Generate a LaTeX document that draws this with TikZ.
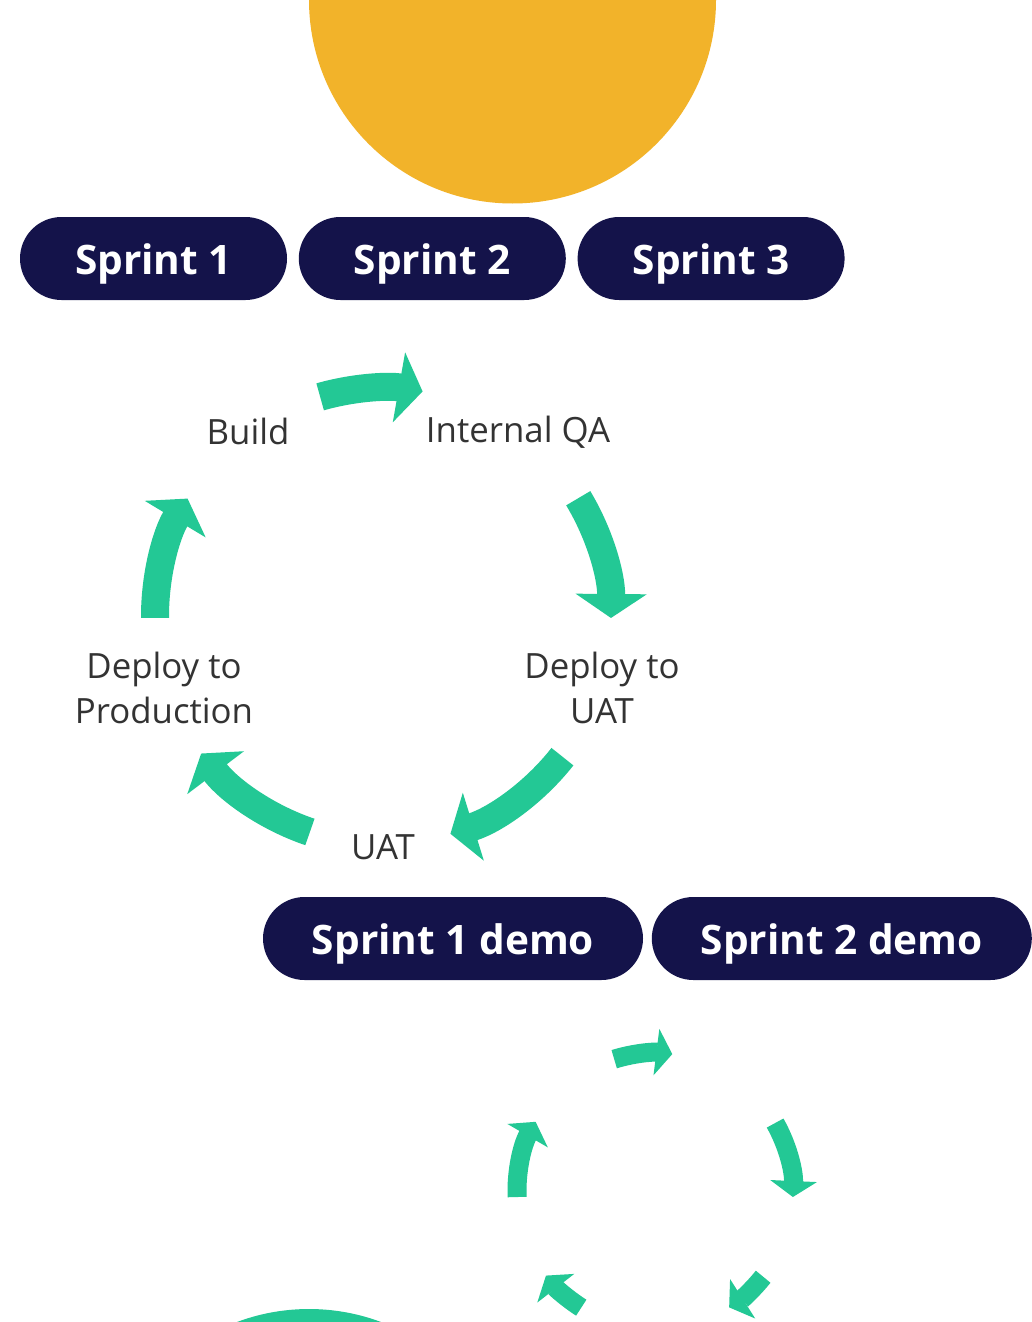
\documentclass[tikz,border=0pt]{standalone}
\usepackage{fontspec}
\setmainfont{Open Sans}
\usetikzlibrary{positioning,arrows.meta}
\definecolor{sunyellow}{HTML}{F2B32A}
\definecolor{sprintnavy}{HTML}{14134A}
\definecolor{cyclegreen}{HTML}{23C895}
\definecolor{labelgray}{HTML}{333333}

\begin{document}
\begin{tikzpicture}[
    x=0.5pt, y=0.5pt,
    sprint/.style={fill=sprintnavy, text=white, rounded corners=20.75pt, inner sep=0pt,
      minimum height=41.5pt, minimum width=133.5pt, text height=15.8pt, text depth=0pt,
      font=\bfseries\fontsize{20.3}{24}\selectfont},
    demo/.style={sprint, minimum width=190pt},
    stagelbl/.style={text=labelgray, align=center, inner sep=0pt, font=\fontsize{17.4}{22.5}\selectfont},
    cyclearrow/.style={cyclegreen, line width=14pt, -{Triangle[width=35pt, length=12pt]}},
    smallarrow/.style={cyclegreen, line width=9.5pt, -{Triangle[width=23pt, length=8pt]}}
  ]

% Page frame
\useasboundingbox (0,0) rectangle (1032,-1322);
\clip (0,0) rectangle (1032,-1322);
\fill[white] (0,0) rectangle (1032,-1322);

% Sun and lower disc
\fill[sunyellow] (512.5,0) circle[radius=203.5];
\fill[cyclegreen] (309,-1514) circle[radius=205];

% Sprint pills
\node[sprint] (s1) at (153.5,-258.5) {Sprint 1};
\node[sprint, right=5.5pt of s1] (s2) {Sprint 2};
\node[sprint, right=5.5pt of s2] (s3) {Sprint 3};

% Demo pills
\node[demo] (d1) at (453,-938.5) {Sprint 1 demo};
\node[demo, right=4pt of d1] (d2) {Sprint 2 demo};

% Stage labels round the cycle
\coordinate (cyc) at (383,-616);
\node[stagelbl] (build) at (248,-431) {Build};
\node[stagelbl] (intqa) at (518,-432) {Internal QA};
\node[stagelbl] (depuat) at (602,-688) {Deploy to\\UAT};
\node[stagelbl] (uat) at (383,-847) {UAT};
\node[stagelbl] (depprod) at (164,-688) {Deploy to\\Production};

% Cycle arrows
\foreach \from/\to in {106/80, 31.1/-0.5, -38.1/-72.8, -108.7/-142.9, 180.5/149} {
    \draw[cyclearrow] (cyc) ++(\from:228) arc[start angle=\from, end angle=\to, radius=228];
}

% Second, smaller cycle
\coordinate (cyc2) at (655,-1191);
\foreach \from/\to in {107.2/82.8, 29.5/-2.5, -38.4/-57.5, -122.3/-142.2, 182.5/149.9} {
    \draw[smallarrow] (cyc2) ++(\from:138) arc[start angle=\from, end angle=\to, radius=138];
}

\end{tikzpicture}
\end{document}
